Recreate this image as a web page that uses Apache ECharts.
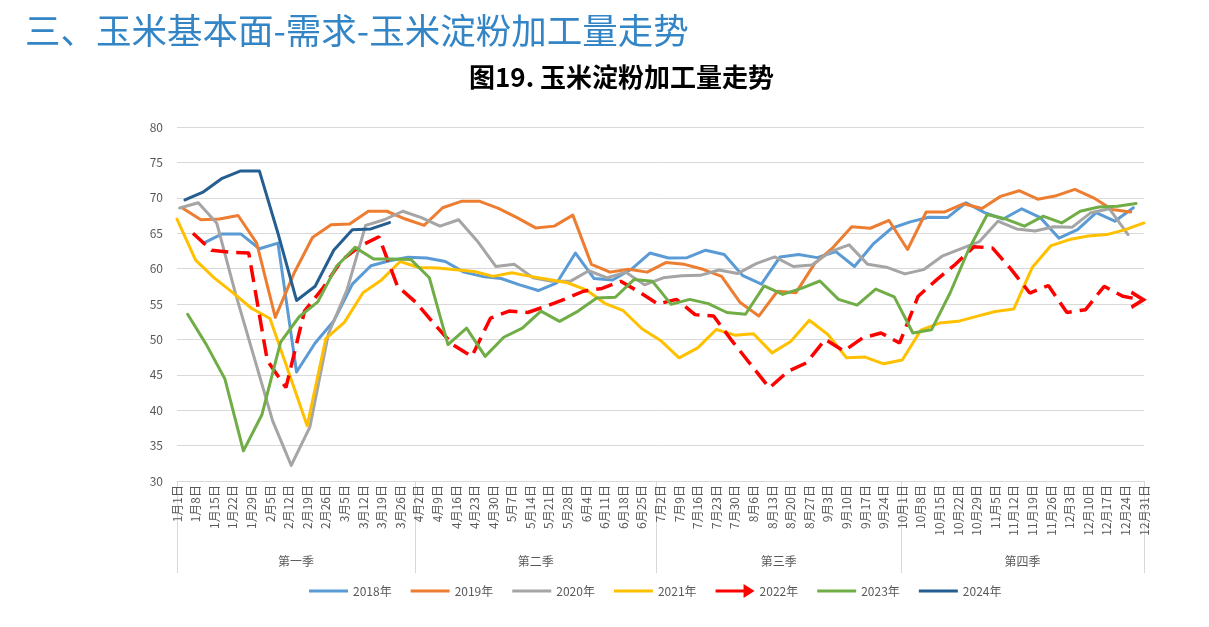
<!DOCTYPE html>
<html><head><meta charset="utf-8">
<script src="https://cdn.jsdelivr.net/npm/echarts@6/dist/echarts.min.js"></script>
<style>html,body{margin:0;padding:0;background:#fff;}#c{width:1209px;height:627px;}</style>
</head><body><div id="c"></div>
<script>
// x-axis tick labels (one per week, day-of-year 0,7,...,364)
const dateLabels = ['1月1日','1月8日','1月15日','1月22日','1月29日','2月5日','2月12日','2月19日','2月26日','3月5日','3月12日','3月19日','3月26日',
  '4月2日','4月9日','4月16日','4月23日','4月30日','5月7日','5月14日','5月21日','5月28日','6月4日','6月11日','6月18日','6月25日',
  '7月2日','7月9日','7月16日','7月23日','7月30日','8月6日','8月13日','8月20日','8月27日','9月3日','9月10日','9月17日','9月24日',
  '10月1日','10月8日','10月15日','10月22日','10月29日','11月5日','11月12日','11月19日','11月26日','12月3日','12月10日','12月17日','12月24日','12月31日'];
const quarters = ['第一季','第二季','第三季','第四季'];
const quarterStartDays = [0, 90, 181, 273];
const yearEndDay = 364;
const yearNames = ['2018年','2019年','2020年','2021年','2022年','2023年','2024年'];

// weekly series: first observation day-of-year, then weekly values
const start2018 = 10;
const v2018 = [63.6,64.9,64.9,62.8,63.6,45.4,49.5,52.6,57.8,60.4,61.1,61.6,
  61.5,61.0,59.5,58.9,58.6,57.7,56.9,58.0,62.2,58.6,58.4,59.9,62.2,
  61.5,61.55,62.6,62.0,59.0,57.8,61.65,62.0,61.55,62.4,60.3,63.45,65.7,
  66.6,67.25,67.2,69.3,67.9,67.0,68.45,67.2,64.3,65.5,67.9,66.7,68.6];
const start2019 = 2;
const v2019 = [68.55,66.9,67.0,67.5,63.6,53.1,59.3,64.4,66.2,66.3,68.1,68.1,67.0,
  66.1,68.6,69.5,69.5,68.5,67.2,65.75,66.0,67.55,60.6,59.5,59.9,59.5,
  60.85,60.6,59.9,58.9,55.2,53.3,56.8,56.6,60.7,63.0,65.9,65.7,66.8,
  62.7,68.0,68.0,69.15,68.5,70.2,71.0,69.8,70.3,71.2,70.0,68.35,68.0];
const start2020 = 1;
const v2020 = [68.55,69.3,66.4,56.5,47.5,38.5,32.2,37.6,50.8,57.0,66.1,66.9,68.1,
  67.2,66.0,66.9,63.9,60.3,60.6,58.7,58.2,58.2,59.7,58.7,59.5,57.7,
  58.7,59.0,59.05,59.8,59.3,60.7,61.65,60.3,60.5,62.4,63.35,60.6,60.2,
  59.25,59.85,61.75,62.8,63.8,66.7,65.6,65.3,65.9,65.85,67.9,68.45,64.8];
const start2021 = 0;
const v2021 = [67.0,61.2,58.7,56.6,54.4,52.95,45.4,37.8,50.1,52.4,56.6,58.4,61.0,
  60.15,60.1,59.85,59.6,58.9,59.4,58.9,58.45,58.0,57.0,55.1,54.05,51.5,
  49.85,47.4,48.8,51.4,50.6,50.8,48.1,49.7,52.7,50.7,47.4,47.5,46.55,
  47.1,51.3,52.3,52.55,53.25,53.95,54.3,60.2,63.25,64.1,64.6,64.8,65.5,66.45];
const start2022 = 6;
const v2022 = [65.0,62.6,62.3,62.2,47.0,43.2,54.0,57.3,61.2,63.2,64.5,57.5,
  55.2,52.1,49.2,47.6,53.0,54.0,53.8,54.7,55.7,56.8,57.2,58.2,56.7,
  55.0,55.65,53.5,53.3,49.75,46.45,43.15,45.5,46.7,50.0,48.35,50.2,50.9,49.5,
  56.1,58.45,60.6,63.1,62.9,59.9,56.55,57.6,53.8,54.2,57.5,56.1,55.6];
const start2023 = 4;
const v2023 = [53.55,49.3,44.45,34.25,39.4,49.6,53.2,55.3,60.3,63.0,61.35,61.35,61.3,
  58.7,49.25,51.6,47.6,50.3,51.6,54.0,52.55,54.0,55.85,55.95,58.45,58.2,
  54.95,55.65,55.05,53.8,53.55,57.55,56.35,57.2,58.25,55.65,54.85,57.1,56.0,
  50.9,51.35,56.55,62.7,67.65,67.0,66.0,67.4,66.45,68.1,68.7,68.8,69.2];
const start2024 = 3;
const v2024 = [69.7,70.85,72.75,73.8,73.8,65.0,55.5,57.5,62.6,65.5,65.6,66.5];

const colors = ['#5B9BD5','#ED7D31','#A5A5A5','#FFC000','#FF0000','#70AD47','#255E91'];

function toPoints(start, vals){ return vals.map((v,i)=>[start + 7*i, v]); }
const seriesData = [
  toPoints(start2018, v2018), toPoints(start2019, v2019), toPoints(start2020, v2020),
  toPoints(start2021, v2021), toPoints(start2022, v2022), toPoints(start2023, v2023),
  toPoints(start2024, v2024)
];

const qTicks = [0, 89.5, 180.5, 272.5, yearEndDay];
const qCenters = quarters.map((q,i)=>(qTicks[i]+qTicks[i+1])/2);

const FONT = '"Noto Sans CJK SC","Noto Sans",sans-serif';
const last2022 = seriesData[4][seriesData[4].length-1];

const series = seriesData.map((d,i)=>{
  const s = {
    name: yearNames[i], type:'line', data:d, xAxisIndex:0, yAxisIndex:0,
    symbol:'none', showSymbol:false, smooth:false,
    lineStyle:{width:3, color:colors[i], cap:'round', join:'round'},
    itemStyle:{color:colors[i]},
    emphasis:{disabled:true}, silent:true, z:2+i
  };
  if (i === 4) {
    s.lineStyle = {width:3.5, color:colors[i], type:[17,8], cap:'butt'};
    s.markPoint = {
      silent:true,
      symbol:'path://M0,0L11,7L0,14',
      symbolSize:[12,15],
      symbolOffset:[-4,0],
      itemStyle:{color:'rgba(0,0,0,0)', borderColor:'#FF0000', borderWidth:3.5},
      label:{show:false},
      data:[{coord:last2022}]
    };
  }
  return s;
});

const lineIcon = 'path://M0,0M0,5.4L39,5.4L39,8.6L0,8.6ZM39,14';
const arrowIcon = 'path://M0,5.4L28,5.4L28,0L39,7L28,14L28,8.6L0,8.6Z';

const chart = echarts.init(document.getElementById('c'), null, {renderer:'canvas'});
chart.setOption({
  animation:false,
  backgroundColor:'#fff',
  textStyle:{fontFamily:FONT},
  title:[
    {text:'三、玉米基本面-需求-玉米淀粉加工量走势', left:25, top:13, padding:0,
     textStyle:{fontSize:35.5, fontWeight:'normal', color:'#3385C6', fontFamily:FONT}},
    {text:'图19. 玉米淀粉加工量走势', left:469, top:64, padding:0,
     textStyle:{fontSize:26, fontWeight:'bold', color:'#000', fontFamily:FONT}}
  ],
  legend:{
    left:309, top:584, padding:0, itemWidth:39, itemHeight:14, itemGap:19,
    textStyle:{color:'#595959', fontSize:12, fontFamily:FONT},
    data: yearNames.map((n,i)=> ({name:n, icon: i===4 ? arrowIcon : lineIcon})),
    selectedMode:false
  },
  grid:{left:177, right:65, top:127, bottom:146},
  xAxis:[{
    type:'value', min:0, max:yearEndDay, interval:7,
    axisLine:{show:true, lineStyle:{color:'#d9d9d9', width:1}},
    axisTick:{show:false}, splitLine:{show:false},
    axisLabel:{rotate:90, fontSize:12, color:'#595959', margin:4, showMinLabel:true, showMaxLabel:true,
      formatter:v=>dateLabels[Math.round(v/7)] || '', fontFamily:FONT}
  },{
    type:'value', min:0, max:yearEndDay, position:'bottom',
    axisLine:{show:false}, splitLine:{show:false},
    axisTick:{show:true, customValues:qTicks, length:92, lineStyle:{color:'#d9d9d9', width:1}},
    axisLabel:{customValues:qCenters, margin:74, fontSize:12, color:'#595959', fontFamily:FONT,
      formatter:v=>{ let b=0, bd=1e9; qCenters.forEach((c,i)=>{ if(Math.abs(c-v)<bd){bd=Math.abs(c-v); b=i;} }); return quarters[b]; }}
  }],
  yAxis:{
    type:'value', min:30, max:80, interval:5,
    axisLine:{show:false}, axisTick:{show:false},
    axisLabel:{color:'#595959', fontSize:12, margin:14, fontFamily:FONT},
    splitLine:{lineStyle:{color:'#d9d9d9', width:1}}
  },
  series: series
});
</script></body></html>
